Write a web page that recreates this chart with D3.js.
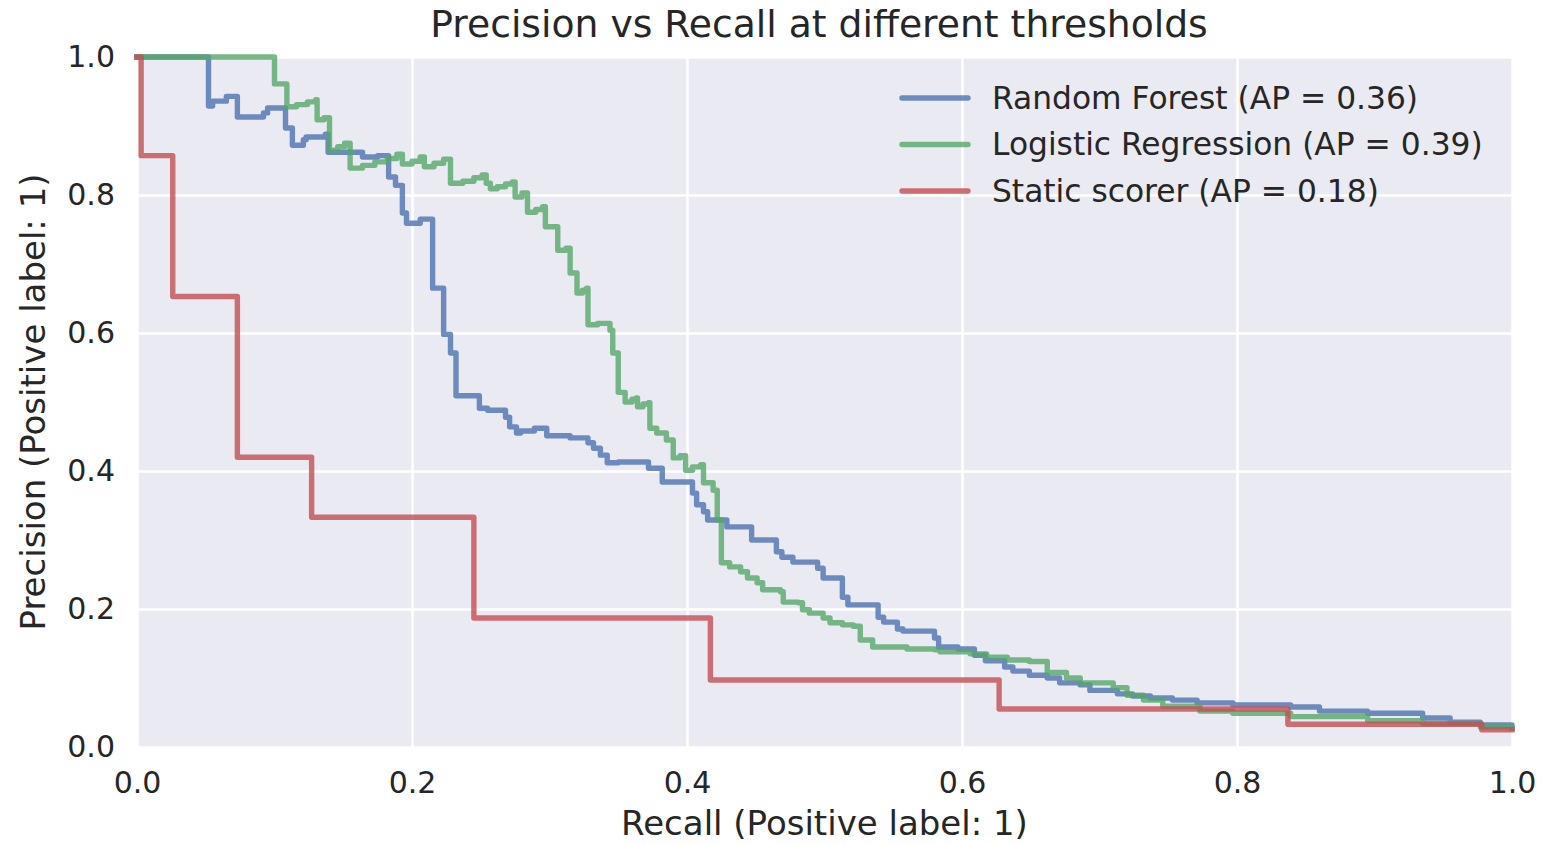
<!DOCTYPE html>
<html>
<head>
<meta charset="utf-8">
<script src="https://cdn.jsdelivr.net/npm/d3@7"></script>
<style>
  body { margin: 0; background: #fff; }
  text { font-family: "DejaVu Sans", sans-serif; fill: #262626; }
</style>
</head>
<body>
<div id="wrapper"></div>
<script>
// step curves: [recall, precision], precision holds until the next recall value
const rfPoints = [
  [0, 1], [0.052, 0.929], [0.055, 0.936], [0.065, 0.943], [0.073, 0.913], [0.092, 0.919],
  [0.095, 0.926], [0.108, 0.897], [0.113, 0.872], [0.121, 0.880], [0.123, 0.884], [0.137, 0.888],
  [0.139, 0.862], [0.164, 0.855], [0.175, 0.857], [0.183, 0.826], [0.188, 0.814], [0.193, 0.774],
  [0.196, 0.759], [0.206, 0.765], [0.215, 0.665], [0.223, 0.598], [0.228, 0.571], [0.232, 0.509],
  [0.249, 0.491], [0.255, 0.488], [0.268, 0.478], [0.271, 0.464], [0.276, 0.455], [0.279, 0.458],
  [0.289, 0.462], [0.298, 0.451], [0.315, 0.448], [0.328, 0.441], [0.332, 0.433], [0.337, 0.423],
  [0.342, 0.412], [0.350, 0.413], [0.372, 0.404], [0.382, 0.384], [0.404, 0.368], [0.407, 0.351],
  [0.412, 0.341], [0.415, 0.329], [0.429, 0.319], [0.447, 0.300], [0.465, 0.283], [0.469, 0.275],
  [0.477, 0.268], [0.495, 0.259], [0.499, 0.245], [0.513, 0.217], [0.517, 0.206], [0.539, 0.188],
  [0.543, 0.181], [0.553, 0.171], [0.557, 0.168], [0.580, 0.158], [0.583, 0.145], [0.597, 0.142],
  [0.609, 0.133], [0.617, 0.125], [0.631, 0.116], [0.637, 0.110], [0.649, 0.104], [0.662, 0.100],
  [0.671, 0.093], [0.686, 0.090], [0.693, 0.082], [0.713, 0.077], [0.724, 0.074], [0.737, 0.071],
  [0.753, 0.068], [0.771, 0.064], [0.797, 0.061], [0.839, 0.058], [0.860, 0.052], [0.895, 0.049],
  [0.935, 0.042], [0.955, 0.036], [0.977, 0.032], [1.0, 0.027]
]
const lrPoints = [
  [0, 1], [0.100, 0.961], [0.109, 0.928], [0.116, 0.931], [0.124, 0.935], [0.130, 0.938],
  [0.131, 0.909], [0.136, 0.912], [0.140, 0.865], [0.146, 0.870], [0.151, 0.875], [0.155, 0.839],
  [0.164, 0.843], [0.173, 0.848], [0.182, 0.853], [0.189, 0.859], [0.193, 0.845], [0.200, 0.849],
  [0.206, 0.855], [0.209, 0.841], [0.216, 0.846], [0.223, 0.852], [0.228, 0.817], [0.237, 0.820],
  [0.245, 0.825], [0.251, 0.829], [0.254, 0.817], [0.257, 0.809], [0.262, 0.812], [0.268, 0.816],
  [0.273, 0.819], [0.275, 0.797], [0.280, 0.803], [0.284, 0.775], [0.290, 0.779], [0.295, 0.783],
  [0.297, 0.754], [0.306, 0.720], [0.312, 0.723], [0.315, 0.687], [0.320, 0.658], [0.324, 0.662],
  [0.327, 0.665], [0.328, 0.612], [0.335, 0.614], [0.344, 0.604], [0.346, 0.571], [0.350, 0.514],
  [0.355, 0.500], [0.360, 0.504], [0.363, 0.506], [0.364, 0.493], [0.368, 0.497], [0.372, 0.499],
  [0.373, 0.462], [0.378, 0.455], [0.385, 0.445], [0.390, 0.419], [0.395, 0.422], [0.399, 0.401],
  [0.404, 0.406], [0.410, 0.409], [0.412, 0.383], [0.419, 0.372], [0.422, 0.329], [0.425, 0.267],
  [0.431, 0.261], [0.439, 0.254], [0.444, 0.245], [0.451, 0.238], [0.455, 0.228], [0.468, 0.225],
  [0.470, 0.210], [0.481, 0.209], [0.484, 0.199], [0.489, 0.194], [0.499, 0.187], [0.504, 0.180],
  [0.513, 0.177], [0.521, 0.175], [0.526, 0.155], [0.535, 0.145], [0.560, 0.142], [0.580, 0.141],
  [0.584, 0.138], [0.606, 0.135], [0.618, 0.130], [0.633, 0.126], [0.649, 0.124], [0.662, 0.108],
  [0.676, 0.100], [0.686, 0.093], [0.710, 0.086], [0.720, 0.075], [0.732, 0.068], [0.746, 0.059],
  [0.773, 0.052], [0.797, 0.049], [0.839, 0.044], [0.895, 0.038], [0.935, 0.034], [0.977, 0.029],
  [1.0, 0.027]
]
const staticPoints = [
  [0, 1], [0.003, 0.857], [0.026, 0.653], [0.073, 0.420], [0.127, 0.333], [0.245, 0.187],
  [0.417, 0.097], [0.627, 0.055], [0.837, 0.033], [0.978, 0.025], [1.0, 0.025]
]
const seriesNames = ["Random Forest (AP = 0.36)", "Logistic Regression (AP = 0.39)", "Static scorer (AP = 0.18)"]
const seriesColors = ["#4C72B0", "#55A868", "#C44E52"]
const tickValues = [0, 0.2, 0.4, 0.6, 0.8, 1.0]

const allSeries = [rfPoints, lrPoints, staticPoints]

let dimensions = {width: 1544, height: 845, margin: {top: 57, right: 32, left: 137, bottom: 98}}
const boundWidth = dimensions.width - dimensions.margin.left - dimensions.margin.right
const boundHeight = dimensions.height - dimensions.margin.top - dimensions.margin.bottom

var wrapper = d3.select("#wrapper")
  .append("svg")
  .attr("width", dimensions.width)
  .attr("height", dimensions.height)

var bounds = wrapper.append("g")
  .attr("transform", `translate(${dimensions.margin.left},${dimensions.margin.top})`)

var xScale = d3.scaleLinear().domain([0, 1]).range([0, boundWidth])
var yScale = d3.scaleLinear().domain([0, 1]).range([boundHeight, 0])

// background
bounds.append("rect")
  .attr("width", boundWidth)
  .attr("height", boundHeight)
  .attr("fill", "#EAEAF2")

// grid
bounds.append("g")
  .attr("transform", `translate(0,${boundHeight})`)
  .call(d3.axisBottom(xScale).tickValues(tickValues).tickSize(-boundHeight).tickFormat(""))
  .call(g => g.select(".domain").remove())
  .call(g => g.selectAll("line").attr("stroke", "#fff").attr("stroke-width", 2.6))
bounds.append("g")
  .call(d3.axisLeft(yScale).tickValues(tickValues).tickSize(-boundWidth).tickFormat(""))
  .call(g => g.select(".domain").remove())
  .call(g => g.selectAll("line").attr("stroke", "#fff").attr("stroke-width", 2.6))

// tick labels
var xAxis = bounds.append("g")
  .attr("transform", `translate(0,${boundHeight})`)
  .call(d3.axisBottom(xScale).tickValues(tickValues).tickSize(0).tickPadding(25).tickFormat(d3.format(".1f")))
xAxis.select(".domain").remove()
xAxis.selectAll("text").style("font-size", "30px").attr("fill", "#262626")

var yAxis = bounds.append("g")
  .call(d3.axisLeft(yScale).tickValues(tickValues).tickSize(0).tickPadding(22).tickFormat(d3.format(".1f")))
yAxis.select(".domain").remove()
yAxis.selectAll("text").style("font-size", "30px").attr("fill", "#262626")

// curves
var line = d3.line()
  .x(d => xScale(d[0]))
  .y(d => yScale(d[1]))
  .curve(d3.curveStepAfter)

bounds.selectAll(".curve")
  .data(allSeries)
  .enter().append("path")
    .attr("class", "curve")
    .attr("d", line)
    .attr("fill", "none")
    .attr("stroke", (d, i) => seriesColors[i])
    .attr("stroke-opacity", 0.8)
    .attr("stroke-width", 5.4)
    .attr("stroke-linejoin", "round")
    .attr("stroke-linecap", "square")

// legend
var legend = bounds.append("g")
  .attr("transform", `translate(${902 - dimensions.margin.left},${98 - dimensions.margin.top})`)
var items = legend.selectAll("g")
  .data(seriesNames)
  .enter().append("g")
    .attr("transform", (d, i) => `translate(0,${i * 46.5})`)
items.append("line")
  .attr("x1", 0).attr("x2", 66)
  .attr("stroke", (d, i) => seriesColors[i])
  .attr("stroke-opacity", 0.8)
  .attr("stroke-width", 5.4)
  .attr("stroke-linecap", "round")
items.append("text")
  .attr("x", 90)
  .attr("dy", "0.35em")
  .style("font-size", "31.3px")
  .text(d => d)

// titles
wrapper.append("text")
  .attr("x", 819)
  .attr("y", 37)
  .attr("text-anchor", "middle")
  .style("font-size", "37.7px")
  .text("Precision vs Recall at different thresholds")

wrapper.append("text")
  .attr("x", dimensions.margin.left + boundWidth / 2)
  .attr("y", 835)
  .attr("text-anchor", "middle")
  .style("font-size", "34px")
  .text("Recall (Positive label: 1)")

wrapper.append("text")
  .attr("transform", `translate(45,${dimensions.margin.top + boundHeight / 2}) rotate(-90)`)
  .attr("text-anchor", "middle")
  .style("font-size", "34px")
  .text("Precision (Positive label: 1)")
</script>
</body>
</html>
